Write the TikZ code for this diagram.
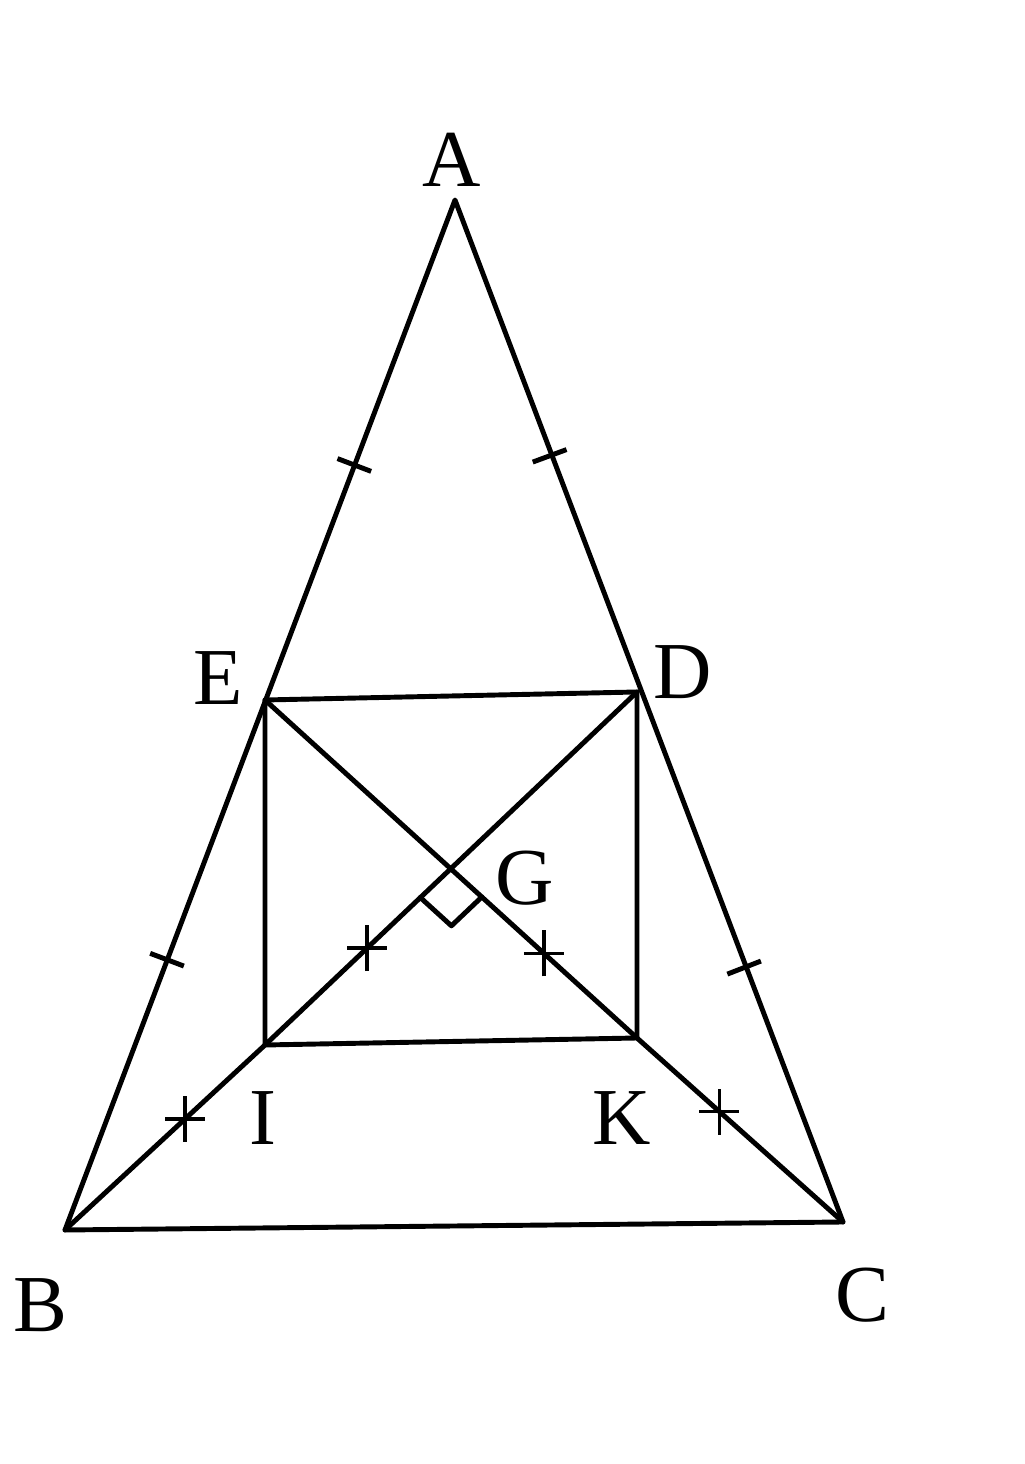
\documentclass[tikz,border=0pt]{standalone}
\usepackage{fontspec}
\setmainfont{Liberation Serif}
\usetikzlibrary{calc}
\tikzset{
  seg/.style={line width=1.4pt, line join=round, line cap=round},
  lbl/.style={font=\fontsize{23}{23}\selectfont, inner sep=0pt},
  tickm/.style={line width=1.4pt},
  starm/.style={line width=1pt}
}
\begin{document}
\begin{tikzpicture}
\useasboundingbox (0,0) rectangle (10.24,14.64);
\coordinate (A) at (4.55,12.64);
\coordinate (B) at (0.65,2.34);
\coordinate (C) at (8.43,2.42);
\coordinate (E) at (2.65,7.64);
\coordinate (D) at (6.37,7.72);
\coordinate (I) at (2.65,4.19);
\coordinate (K) at (6.37,4.26);
\coordinate (G) at (intersection of E--K and D--I);
% main lines
\draw[seg] (A) -- (B) -- (C) -- cycle;
\draw[seg] (E) -- (D) -- (K) -- (I) -- cycle;
\draw[seg] (E) -- (K) -- (C);
\draw[seg] (D) -- (I) -- (B);
% right angle at G
\coordinate (r1) at ($(G)!0.42cm!(I)$);
\coordinate (r2) at ($(G)!0.42cm!(K)$);
\draw[seg] (r1) -- ($(r1)+(r2)-(G)$) -- (r2);
% tick marks
\foreach \p/\q/\t in {A/E/0.53, A/D/0.52, E/B/0.49, D/C/0.52}{
  \draw[tickm] ($(\p)!\t!(\q)!0.18cm!90:(\q)$) -- ($(\p)!\t!(\q)!0.18cm!-90:(\q)$);
}
% star marks
\foreach \p/\q/\t in {I/G/0.55, G/K/0.5, B/I/0.6, K/C/0.4}{
  \draw[starm] ($(\p)!\t!(\q)$) +(-0.2,0) -- +(0.2,0) +(0,-0.23) -- +(0,0.23);
}
% labels
\node[lbl] (lA) at (4.52,13.04) {A};
\node[lbl] (lE) at (2.18,7.86) {E};
\node[lbl] (lD) at (6.83,7.92) {D};
\node[lbl] (lG) at (5.25,5.86) {G};
\node[lbl] (lI) at (2.63,3.46) {I};
\node[lbl] (lK) at (6.22,3.46) {K};
\node[lbl] (lB) at (0.40,1.59) {B};
\node[lbl] (lC) at (8.62,1.69) {C};
\end{tikzpicture}
\end{document}
